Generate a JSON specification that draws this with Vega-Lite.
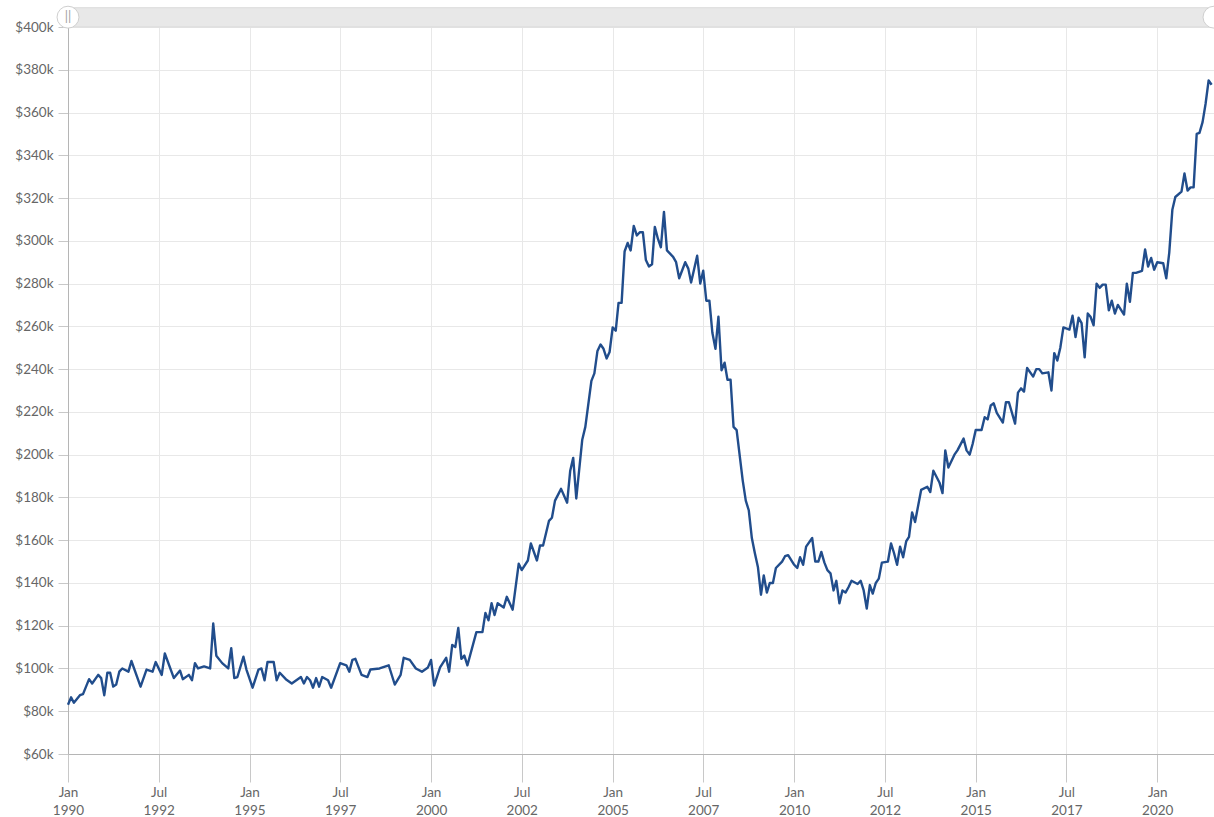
{
  "$schema": "https://vega.github.io/schema/vega-lite/v6.json",
  "width": 1146,
  "height": 727,
  "autosize": {"type": "none"},
  "padding": {"left": 68, "top": 27, "right": 0, "bottom": 63},
  "background": "white",
  "config": {
    "view": {"stroke": null},
    "font": "Lato",
    "axis": {
      "gridColor": "#e8e8e8",
      "gridWidth": 1,
      "domainColor": "#b5b5b5",
      "tickColor": "#c8c8c8",
      "labelColor": "#666666",
      "labelFontSize": 13.5,
      "labelFont": "Lato",
      "title": null
    }
  },
  "datasets": {
    "prices": [
      {"date":"1990-01-01","price":83000},{"date":"1990-02-01","price":86500},{"date":"1990-03-01","price":84000},{"date":"1990-05-01","price":87500},{"date":"1990-06-01","price":88000},{"date":"1990-08-01","price":95000},{"date":"1990-09-01","price":93000},{"date":"1990-11-01","price":97000},{"date":"1990-12-01","price":95500},
      {"date":"1991-01-01","price":87500},{"date":"1991-02-01","price":98000},{"date":"1991-03-01","price":98000},{"date":"1991-04-01","price":91500},{"date":"1991-05-01","price":92500},{"date":"1991-06-01","price":98500},{"date":"1991-07-01","price":100000},{"date":"1991-09-01","price":98500},{"date":"1991-10-01","price":103500},
      {"date":"1992-01-01","price":91500},{"date":"1992-03-01","price":99500},{"date":"1992-05-01","price":98500},{"date":"1992-06-01","price":103000},{"date":"1992-08-01","price":97000},{"date":"1992-09-01","price":107000},{"date":"1992-12-01","price":95500},
      {"date":"1993-02-01","price":99000},{"date":"1993-03-01","price":95000},{"date":"1993-05-01","price":97000},{"date":"1993-06-01","price":94500},{"date":"1993-07-01","price":102500},{"date":"1993-08-01","price":100000},{"date":"1993-10-01","price":101000},{"date":"1993-12-01","price":100000},
      {"date":"1994-01-01","price":121000},{"date":"1994-02-01","price":106000},{"date":"1994-04-01","price":102500},{"date":"1994-06-01","price":100000},{"date":"1994-07-01","price":109500},{"date":"1994-08-01","price":95500},{"date":"1994-09-01","price":96000},{"date":"1994-11-01","price":105500},{"date":"1994-12-01","price":99500},
      {"date":"1995-02-01","price":91000},{"date":"1995-04-01","price":99500},{"date":"1995-05-01","price":100000},{"date":"1995-06-01","price":94500},{"date":"1995-07-01","price":103000},{"date":"1995-09-01","price":103000},{"date":"1995-10-01","price":94500},{"date":"1995-11-01","price":98000},
      {"date":"1996-01-01","price":95000},{"date":"1996-03-01","price":93000},{"date":"1996-06-01","price":96000},{"date":"1996-07-01","price":93000},{"date":"1996-08-01","price":96000},{"date":"1996-09-01","price":94500},{"date":"1996-10-01","price":91000},{"date":"1996-11-01","price":95500},{"date":"1996-12-01","price":91500},
      {"date":"1997-01-01","price":96000},{"date":"1997-03-01","price":94500},{"date":"1997-04-01","price":91000},{"date":"1997-07-01","price":102500},{"date":"1997-09-01","price":101500},{"date":"1997-10-01","price":98500},{"date":"1997-11-01","price":104000},{"date":"1997-12-01","price":104500},
      {"date":"1998-02-01","price":97000},{"date":"1998-04-01","price":96000},{"date":"1998-05-01","price":99500},{"date":"1998-08-01","price":100000},{"date":"1998-11-01","price":101500},
      {"date":"1999-01-01","price":92500},{"date":"1999-03-01","price":97000},{"date":"1999-04-01","price":105000},{"date":"1999-06-01","price":104000},{"date":"1999-08-01","price":100000},{"date":"1999-10-01","price":98500},{"date":"1999-12-01","price":100500},
      {"date":"2000-01-01","price":104000},{"date":"2000-02-01","price":92000},{"date":"2000-04-01","price":100500},{"date":"2000-06-01","price":105000},{"date":"2000-07-01","price":98500},{"date":"2000-08-01","price":111000},{"date":"2000-09-01","price":110000},{"date":"2000-10-01","price":119000},{"date":"2000-11-01","price":104500},{"date":"2000-12-01","price":106000},
      {"date":"2001-01-01","price":101500},{"date":"2001-04-01","price":117000},{"date":"2001-06-01","price":117000},{"date":"2001-07-01","price":126000},{"date":"2001-08-01","price":122500},{"date":"2001-09-01","price":130500},{"date":"2001-10-01","price":125000},{"date":"2001-11-01","price":130500},
      {"date":"2002-01-01","price":128500},{"date":"2002-02-01","price":133500},{"date":"2002-04-01","price":127500},{"date":"2002-06-01","price":149000},{"date":"2002-07-01","price":146000},{"date":"2002-09-01","price":150500},{"date":"2002-10-01","price":158500},{"date":"2002-12-01","price":150500},
      {"date":"2003-01-01","price":157500},{"date":"2003-02-01","price":157500},{"date":"2003-04-01","price":169000},{"date":"2003-05-01","price":170500},{"date":"2003-06-01","price":178500},{"date":"2003-08-01","price":184000},{"date":"2003-10-01","price":177500},{"date":"2003-11-01","price":192500},{"date":"2003-12-01","price":198500},
      {"date":"2004-01-01","price":179500},{"date":"2004-03-01","price":207000},{"date":"2004-04-01","price":213000},{"date":"2004-06-01","price":234500},{"date":"2004-07-01","price":238000},{"date":"2004-08-01","price":248500},{"date":"2004-09-01","price":251500},{"date":"2004-10-01","price":249500},{"date":"2004-11-01","price":245000},{"date":"2004-12-01","price":248000},
      {"date":"2005-01-01","price":259500},{"date":"2005-02-01","price":258000},{"date":"2005-03-01","price":271000},{"date":"2005-04-01","price":271000},{"date":"2005-05-01","price":295000},{"date":"2005-06-01","price":299000},{"date":"2005-07-01","price":295500},{"date":"2005-08-01","price":307000},{"date":"2005-09-01","price":302500},{"date":"2005-10-01","price":304000},{"date":"2005-11-01","price":304000},{"date":"2005-12-01","price":291000},
      {"date":"2006-01-01","price":288000},{"date":"2006-02-01","price":289000},{"date":"2006-03-01","price":306500},{"date":"2006-04-01","price":301000},{"date":"2006-05-01","price":297000},{"date":"2006-06-01","price":313500},{"date":"2006-07-01","price":295500},{"date":"2006-09-01","price":292500},{"date":"2006-10-01","price":290000},{"date":"2006-11-01","price":282500},
      {"date":"2007-01-01","price":290000},{"date":"2007-02-01","price":287000},{"date":"2007-03-01","price":280500},{"date":"2007-05-01","price":293000},{"date":"2007-06-01","price":280000},{"date":"2007-07-01","price":286000},{"date":"2007-08-01","price":272000},{"date":"2007-09-01","price":272000},{"date":"2007-10-01","price":257000},{"date":"2007-11-01","price":249500},{"date":"2007-12-01","price":264500},
      {"date":"2008-01-01","price":239500},{"date":"2008-02-01","price":243000},{"date":"2008-03-01","price":235000},{"date":"2008-04-01","price":235000},{"date":"2008-05-01","price":213000},{"date":"2008-06-01","price":211500},{"date":"2008-08-01","price":188000},{"date":"2008-09-01","price":178500},{"date":"2008-10-01","price":174000},{"date":"2008-11-01","price":161000},{"date":"2008-12-01","price":154000},
      {"date":"2009-01-01","price":147500},{"date":"2009-02-01","price":134500},{"date":"2009-03-01","price":143500},{"date":"2009-04-01","price":135500},{"date":"2009-05-01","price":140000},{"date":"2009-06-01","price":140000},{"date":"2009-07-01","price":147000},{"date":"2009-09-01","price":150000},{"date":"2009-10-01","price":152500},{"date":"2009-11-01","price":153000},
      {"date":"2010-01-01","price":148500},{"date":"2010-02-01","price":147000},{"date":"2010-03-01","price":152000},{"date":"2010-04-01","price":148500},{"date":"2010-05-01","price":157000},{"date":"2010-07-01","price":161000},{"date":"2010-08-01","price":150000},{"date":"2010-09-01","price":150000},{"date":"2010-10-01","price":154500},{"date":"2010-11-01","price":149500},{"date":"2010-12-01","price":146000},
      {"date":"2011-01-01","price":144500},{"date":"2011-02-01","price":136500},{"date":"2011-03-01","price":141000},{"date":"2011-04-01","price":130500},{"date":"2011-05-01","price":136500},{"date":"2011-06-01","price":135500},{"date":"2011-07-01","price":138000},{"date":"2011-08-01","price":141000},{"date":"2011-10-01","price":139500},{"date":"2011-11-01","price":141000},{"date":"2011-12-01","price":136500},
      {"date":"2012-01-01","price":128000},{"date":"2012-02-01","price":139000},{"date":"2012-03-01","price":135000},{"date":"2012-04-01","price":140000},{"date":"2012-05-01","price":142000},{"date":"2012-06-01","price":149500},{"date":"2012-08-01","price":150000},{"date":"2012-09-01","price":158500},{"date":"2012-10-01","price":154000},{"date":"2012-11-01","price":148500},{"date":"2012-12-01","price":157000},
      {"date":"2013-01-01","price":152000},{"date":"2013-02-01","price":159500},{"date":"2013-03-01","price":161500},{"date":"2013-04-01","price":173000},{"date":"2013-05-01","price":168500},{"date":"2013-07-01","price":183500},{"date":"2013-09-01","price":185000},{"date":"2013-10-01","price":182500},{"date":"2013-11-01","price":192500},
      {"date":"2014-01-01","price":187000},{"date":"2014-02-01","price":182000},{"date":"2014-03-01","price":202000},{"date":"2014-04-01","price":194000},{"date":"2014-06-01","price":200000},{"date":"2014-07-01","price":202000},{"date":"2014-09-01","price":207500},{"date":"2014-10-01","price":202000},{"date":"2014-11-01","price":200000},{"date":"2014-12-01","price":205000},
      {"date":"2015-01-01","price":211500},{"date":"2015-03-01","price":211500},{"date":"2015-04-01","price":217500},{"date":"2015-05-01","price":216500},{"date":"2015-06-01","price":223000},{"date":"2015-07-01","price":224000},{"date":"2015-08-01","price":219500},{"date":"2015-10-01","price":215000},{"date":"2015-11-01","price":224500},{"date":"2015-12-01","price":224500},
      {"date":"2016-02-01","price":214500},{"date":"2016-03-01","price":229000},{"date":"2016-04-01","price":231000},{"date":"2016-05-01","price":229500},{"date":"2016-06-01","price":240500},{"date":"2016-08-01","price":236500},{"date":"2016-09-01","price":240000},{"date":"2016-10-01","price":240000},{"date":"2016-11-01","price":238000},
      {"date":"2017-01-01","price":238500},{"date":"2017-02-01","price":230000},{"date":"2017-03-01","price":247500},{"date":"2017-04-01","price":244000},{"date":"2017-05-01","price":250000},{"date":"2017-06-01","price":259500},{"date":"2017-08-01","price":258500},{"date":"2017-09-01","price":265000},{"date":"2017-10-01","price":255000},{"date":"2017-11-01","price":264000},{"date":"2017-12-01","price":261500},
      {"date":"2018-01-01","price":245500},{"date":"2018-02-01","price":266000},{"date":"2018-03-01","price":264500},{"date":"2018-04-01","price":260500},{"date":"2018-05-01","price":280000},{"date":"2018-06-01","price":278000},{"date":"2018-07-01","price":279500},{"date":"2018-08-01","price":279500},{"date":"2018-09-01","price":267500},{"date":"2018-10-01","price":272000},{"date":"2018-11-01","price":266000},{"date":"2018-12-01","price":270000},
      {"date":"2019-02-01","price":265500},{"date":"2019-03-01","price":280000},{"date":"2019-04-01","price":271500},{"date":"2019-05-01","price":285000},{"date":"2019-06-01","price":285000},{"date":"2019-08-01","price":286000},{"date":"2019-09-01","price":296000},{"date":"2019-10-01","price":288000},{"date":"2019-11-01","price":292000},{"date":"2019-12-01","price":286500},
      {"date":"2020-01-01","price":290000},{"date":"2020-03-01","price":289500},{"date":"2020-04-01","price":282500},{"date":"2020-05-01","price":294500},{"date":"2020-06-01","price":314500},{"date":"2020-07-01","price":320500},{"date":"2020-09-01","price":323000},{"date":"2020-10-01","price":331500},{"date":"2020-11-01","price":323500},{"date":"2020-12-01","price":325000},
      {"date":"2021-01-01","price":325000},{"date":"2021-02-01","price":350000},{"date":"2021-03-01","price":350500},{"date":"2021-04-01","price":355500},{"date":"2021-05-01","price":364000},{"date":"2021-06-01","price":375000},{"date":"2021-07-01","price":373000}
    ]
  },
  "layer": [
    {
      "data": {"name": "prices"},
      "mark": {"type": "line", "color": "#214d8c", "strokeWidth": 2.4, "strokeJoin": "round", "clip": false},
      "encoding": {
        "x": {
          "field": "date", "type": "temporal",
          "scale": {"type": "utc", "domain": [{"year": 1990, "month": 1, "date": 1, "utc": true}, {"year": 2021, "month": 7, "date": 25, "utc": true}]},
          "axis": {
            "values": [
              {"year": 1990, "month": 1, "date": 1, "utc": true},
              {"year": 1992, "month": 7, "date": 1, "utc": true},
              {"year": 1995, "month": 1, "date": 1, "utc": true},
              {"year": 1997, "month": 7, "date": 1, "utc": true},
              {"year": 2000, "month": 1, "date": 1, "utc": true},
              {"year": 2002, "month": 7, "date": 1, "utc": true},
              {"year": 2005, "month": 1, "date": 1, "utc": true},
              {"year": 2007, "month": 7, "date": 1, "utc": true},
              {"year": 2010, "month": 1, "date": 1, "utc": true},
              {"year": 2012, "month": 7, "date": 1, "utc": true},
              {"year": 2015, "month": 1, "date": 1, "utc": true},
              {"year": 2017, "month": 7, "date": 1, "utc": true},
              {"year": 2020, "month": 1, "date": 1, "utc": true}
            ],
            "labelExpr": "[utcFormat(datum.value, '%b'), utcFormat(datum.value, '%Y')]",
            "tickSize": 28,
            "labelPadding": 3,
            "labelLineHeight": 18,
            "labelFlush": false,
            "labelOverlap": false,
            "grid": true
          }
        },
        "y": {
          "field": "price", "type": "quantitative",
          "scale": {"domain": [60000, 400000], "nice": false, "zero": false},
          "axis": {
            "values": [60000, 80000, 100000, 120000, 140000, 160000, 180000, 200000, 220000, 240000, 260000, 280000, 300000, 320000, 340000, 360000, 380000, 400000],
            "labelExpr": "'$' + format(datum.value / 1000, 'd') + 'k'",
            "tickSize": 10,
            "labelPadding": 5,
            "labelFlush": false,
            "labelOverlap": false,
            "grid": true
          }
        }
      }
    },
    {
      "data": {"values": [{}]},
      "mark": {"type": "rect", "fill": "#e8e8e8", "stroke": "#d9d9d9", "strokeWidth": 1, "clip": false},
      "encoding": {
        "x": {"datum": {"year": 1990, "month": 1, "date": 1, "utc": true}, "type": "temporal"},
        "x2": {"datum": {"year": 2021, "month": 7, "date": 25, "utc": true}},
        "y": {"datum": 400000, "type": "quantitative"},
        "y2": {"datum": 409000}
      }
    },
    {
      "data": {"values": [{}]},
      "mark": {"type": "point", "shape": "circle", "size": 480, "filled": true, "fill": "white", "stroke": "#cfcfcf", "strokeWidth": 1, "opacity": 1, "clip": false},
      "encoding": {
        "x": {"datum": {"year": 1990, "month": 1, "date": 1, "utc": true}, "type": "temporal"},
        "y": {"datum": 404600, "type": "quantitative"}
      }
    },
    {
      "data": {"values": [{}]},
      "mark": {"type": "point", "shape": "circle", "size": 480, "filled": true, "fill": "white", "stroke": "#cfcfcf", "strokeWidth": 1, "opacity": 1, "clip": false},
      "encoding": {
        "x": {"datum": {"year": 2021, "month": 7, "date": 25, "utc": true}, "type": "temporal"},
        "y": {"datum": 404600, "type": "quantitative"}
      }
    },
    {
      "data": {"values": [{}]},
      "mark": {"type": "text", "text": "||", "fontSize": 13, "color": "#a0a0a0", "align": "center", "baseline": "middle", "clip": false},
      "encoding": {
        "x": {"datum": {"year": 1990, "month": 1, "date": 1, "utc": true}, "type": "temporal"},
        "y": {"datum": 404600, "type": "quantitative"}
      }
    }
  ]
}
